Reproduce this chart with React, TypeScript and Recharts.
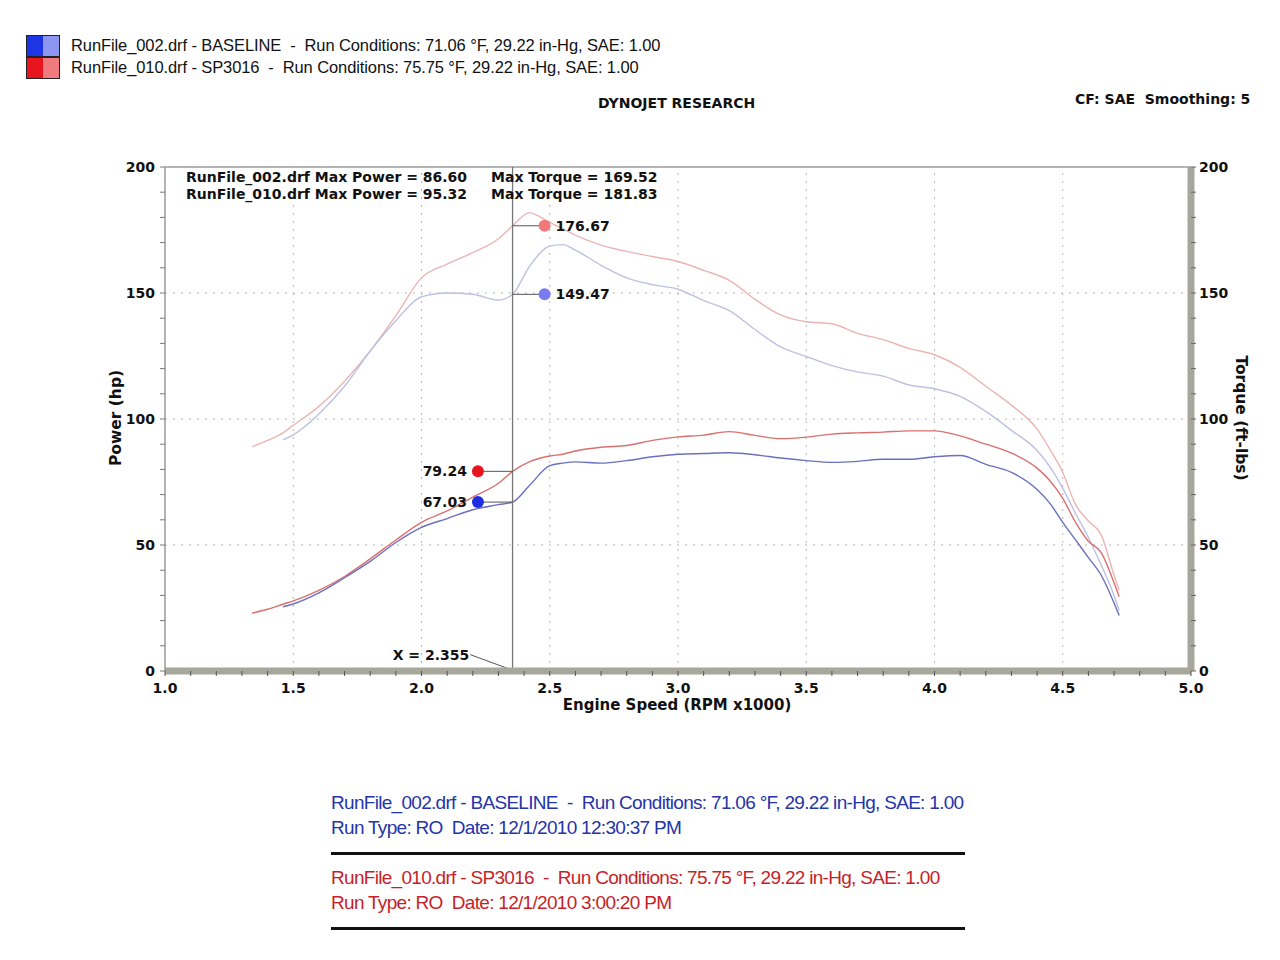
import React from 'react';
import { LineChart, Line, XAxis, YAxis, ReferenceLine, ReferenceDot } from 'recharts';

const rpm = [1.34, 1.40, 1.46, 1.5, 1.6, 1.7, 1.8, 1.9, 2.0, 2.1, 2.2, 2.3, 2.355, 2.42, 2.5, 2.55, 2.6, 2.7, 2.8, 2.9, 3.0, 3.1, 3.2, 3.3, 3.4, 3.5, 3.6, 3.7, 3.8, 3.9, 4.0, 4.1, 4.2, 4.3, 4.4, 4.45, 4.5, 4.55, 4.6, 4.65, 4.7, 4.72];

const sp3016Torque = [89, 91.5, 94.5, 97.5, 105, 115, 127, 141, 156, 161.5, 166, 171.5, 176.67, 181.8, 178, 175.5, 173, 169, 166.5, 164.5, 162.5, 159, 155, 147.5, 141.3, 138.6, 137.8, 134, 131.5, 128, 125.5, 120.5, 113, 105.5, 96, 88, 78.8, 66, 59.5, 54, 38, 32];
const baselineTorque = [null, null, 91.7, 93.7, 102, 113, 127, 139, 148.5, 150, 149.5, 147.2, 149.47, 160.4, 168.6, 169.2, 167, 161, 156, 153.3, 151.5, 147, 143, 135.5, 128.6, 124.8, 121.2, 118.7, 117, 113.5, 112, 109, 103, 95.5, 87.5, 81, 72.5, 62.5, 53, 42, 30, 24];
const sp3016Power = [23, 24.5, 26.5, 27.8, 32, 37.5, 44.5, 52, 59, 63.5, 69, 74.5, 79.24, 83, 85.3, 86, 87.3, 88.8, 89.5, 91.5, 92.9, 93.6, 95, 93.5, 92.2, 92.8, 94, 94.5, 94.8, 95.3, 95.3, 93.3, 90, 86.5, 80.5, 75.5, 68.5, 59, 51.5, 47, 35, 29.5];
const baselinePower = [null, null, 25.5, 26.6, 31, 37, 43.5, 51, 57, 60.5, 64, 66, 67.03, 73.5, 81.5, 82.5, 83, 82.5, 83.5, 85, 86, 86.3, 86.6, 85.8, 84.5, 83.5, 82.8, 83.2, 84, 84, 85, 85.5, 82, 78.8, 72, 66.5, 59, 52, 45, 38, 27, 22];

const xTicks = [1.0, 1.1, 1.2, 1.3, 1.4, 1.5, 1.6, 1.7, 1.8, 1.9, 2.0, 2.1, 2.2, 2.3, 2.4, 2.5, 2.6, 2.7, 2.8, 2.9, 3.0, 3.1, 3.2, 3.3, 3.4, 3.5, 3.6, 3.7, 3.8, 3.9, 4.0, 4.1, 4.2, 4.3, 4.4, 4.5, 4.6, 4.7, 4.8, 4.9, 5.0];
const xMajor = [1.5, 2.0, 2.5, 3.0, 3.5, 4.0, 4.5];
const yTicks = [0, 10, 20, 30, 40, 50, 60, 70, 80, 90, 100, 110, 120, 130, 140, 150, 160, 170, 180, 190, 200];
const yMajor = [50, 100, 150];

const cursorX = 2.355;
const torqueDotX = 2.48;
const powerDotX = 2.22;
const cursorTorque = { sp3016: 176.67, baseline: 149.47 };
const cursorPower = { sp3016: 79.24, baseline: 67.03 };

const data = rpm.map((r, i) => ({
  rpm: r,
  st: sp3016Torque[i],
  bt: baselineTorque[i],
  sp: sp3016Power[i],
  bp: baselinePower[i],
}));

const BOLD = '"DejaVu Sans", Verdana, sans-serif';
const NARROW = '"Liberation Sans", Arial, sans-serif';

const isMajor = (v: number, step: number) => Math.abs(v / step - Math.round(v / step)) < 1e-6;

const XTick = (props: any) => {
  const { x, y, payload } = props;
  if (!isMajor(payload.value, 0.5)) return null;
  return (
    <text x={x} y={y + 15} textAnchor="middle" fontFamily={BOLD} fontWeight="bold" fontSize={14} fill="#111">
      {payload.value.toFixed(1)}
    </text>
  );
};
const YTickL = (props: any) => {
  const { x, y, payload } = props;
  if (!isMajor(payload.value, 50)) return null;
  return (
    <text x={x - 3} y={y + 5} textAnchor="end" fontFamily={BOLD} fontWeight="bold" fontSize={14} fill="#111">
      {payload.value}
    </text>
  );
};
const YTickR = (props: any) => {
  const { x, y, payload } = props;
  if (!isMajor(payload.value, 50)) return null;
  return (
    <text x={x + 1} y={y + 5} textAnchor="start" fontFamily={BOLD} fontWeight="bold" fontSize={14} fill="#111">
      {payload.value}
    </text>
  );
};

const abs = (left: number, top: number, extra: React.CSSProperties = {}): React.CSSProperties => ({
  position: 'absolute', left, top, whiteSpace: 'nowrap', lineHeight: 1, margin: 0, ...extra,
});

const Swatch = ({ top, dark, light }: { top: number; dark: string; light: string }) => (
  <div style={{ position: 'absolute', left: 26, top, width: 34, height: 22, border: '1.5px solid #222', boxSizing: 'border-box', display: 'flex' }}>
    <div style={{ flex: 1, background: dark }} />
    <div style={{ flex: 1, background: light }} />
  </div>
);

const lblStyle = { fontFamily: BOLD, fontWeight: 'bold', fontSize: 14, fill: '#111' } as any;
const boldText = (size: number): React.CSSProperties => ({ fontFamily: BOLD, fontWeight: 'bold', fontSize: size, color: '#111' });

export default function App() {
  return (
    <div style={{ position: 'absolute', left: 0, top: 0, width: 1280, height: 960, background: '#fff', overflow: 'hidden' }}>
      <Swatch top={35} dark="#1c36e6" light="#8d96f0" />
      <Swatch top={57} dark="#e8141e" light="#f07a7e" />
      <div style={abs(71, 37, { fontFamily: NARROW, fontSize: 16.5, letterSpacing: -0.1, color: '#111' })}>
        RunFile_002.drf - BASELINE&nbsp; -&nbsp; Run Conditions: 71.06 °F, 29.22 in-Hg, SAE: 1.00
      </div>
      <div style={abs(71, 59, { fontFamily: NARROW, fontSize: 16.5, letterSpacing: -0.1, color: '#111' })}>
        RunFile_010.drf - SP3016&nbsp; -&nbsp; Run Conditions: 75.75 °F, 29.22 in-Hg, SAE: 1.00
      </div>
      <div style={abs(598, 96, boldText(14))}>DYNOJET RESEARCH</div>
      <div style={abs(1075, 92, boldText(14))}>CF: SAE&nbsp; Smoothing: 5</div>

      <div style={{ position: 'absolute', left: 0, top: 0 }}>
        <LineChart width={1280} height={960} data={data} margin={{ top: 167, right: 29, bottom: 249, left: 105 }}>
          <XAxis dataKey="rpm" type="number" domain={[1, 5]} ticks={xTicks} interval={0} tick={<XTick />}
            axisLine={{ stroke: '#a8a79b', strokeWidth: 7 }} tickLine={{ stroke: '#555' }} tickSize={5} height={40} allowDataOverflow />
          <YAxis yAxisId="left" domain={[0, 200]} ticks={yTicks} interval={0} tick={<YTickL />} width={60}
            axisLine={{ stroke: '#9a9a9a', strokeWidth: 1.5 }} tickLine={{ stroke: '#777' }} tickSize={5} />
          <YAxis yAxisId="right" orientation="right" domain={[0, 200]} ticks={yTicks} interval={0} tick={<YTickR />} width={60}
            axisLine={{ stroke: '#a8a79b', strokeWidth: 7 }} tickLine={{ stroke: '#666' }} tickSize={5} />

          {xMajor.map((v) => (
            <ReferenceLine key={'gx' + v} yAxisId="left" x={v} stroke="#b5b5b5" strokeDasharray="2 6" strokeWidth={1} />
          ))}
          {yMajor.map((v) => (
            <ReferenceLine key={'gy' + v} yAxisId="left" y={v} stroke="#b5b5b5" strokeDasharray="2 6" strokeWidth={1} />
          ))}
          <ReferenceLine yAxisId="left" y={200} stroke="#9a9a9a" strokeWidth={1.5} />

          <Line yAxisId="right" type="monotone" dataKey="st" stroke="#ecb4b4" strokeWidth={1.4} dot={false} isAnimationActive={false} connectNulls={false} />
          <Line yAxisId="right" type="monotone" dataKey="bt" stroke="#bcc0e2" strokeWidth={1.4} dot={false} isAnimationActive={false} connectNulls={false} />
          <Line yAxisId="left" type="monotone" dataKey="sp" stroke="#d9706e" strokeWidth={1.4} dot={false} isAnimationActive={false} connectNulls={false} />
          <Line yAxisId="left" type="monotone" dataKey="bp" stroke="#6a70bf" strokeWidth={1.4} dot={false} isAnimationActive={false} connectNulls={false} />

          <ReferenceLine yAxisId="left" x={cursorX} stroke="#777" strokeWidth={1.3} />

          <ReferenceLine yAxisId="right" segment={[{ x: cursorX, y: cursorTorque.sp3016 }, { x: torqueDotX, y: cursorTorque.sp3016 }]} stroke="#555" />
          <ReferenceLine yAxisId="right" segment={[{ x: cursorX, y: cursorTorque.baseline }, { x: torqueDotX, y: cursorTorque.baseline }]} stroke="#555" />
          <ReferenceLine yAxisId="left" segment={[{ x: powerDotX, y: cursorPower.sp3016 }, { x: cursorX, y: cursorPower.sp3016 }]} stroke="#555" />
          <ReferenceLine yAxisId="left" segment={[{ x: powerDotX, y: cursorPower.baseline }, { x: cursorX, y: cursorPower.baseline }]} stroke="#555" />
          <ReferenceLine yAxisId="left" segment={[{ x: 2.19, y: 6.5 }, { x: cursorX, y: 0.3 }]} stroke="#555" />

          <ReferenceDot yAxisId="right" x={torqueDotX} y={cursorTorque.sp3016} r={6} fill="#f07a7a" stroke="none"
            label={{ value: '176.67', position: 'right', offset: 5, ...lblStyle }} />
          <ReferenceDot yAxisId="right" x={torqueDotX} y={cursorTorque.baseline} r={6} fill="#7b7bf0" stroke="none"
            label={{ value: '149.47', position: 'right', offset: 5, ...lblStyle }} />
          <ReferenceDot yAxisId="left" x={powerDotX} y={cursorPower.sp3016} r={6} fill="#e8141e" stroke="none"
            label={{ value: '79.24', position: 'left', offset: 5, ...lblStyle }} />
          <ReferenceDot yAxisId="left" x={powerDotX} y={cursorPower.baseline} r={6} fill="#1c2ee0" stroke="none"
            label={{ value: '67.03', position: 'left', offset: 5, ...lblStyle }} />
          <ReferenceDot yAxisId="left" x={2.19} y={6.5} r={0} fill="none" stroke="none"
            label={{ value: 'X = 2.355', position: 'left', offset: 1, ...lblStyle }} />
        </LineChart>
      </div>

      <div style={abs(186, 170, boldText(14))}>RunFile_002.drf Max Power = 86.60</div>
      <div style={abs(186, 187, boldText(14))}>RunFile_010.drf Max Power = 95.32</div>
      <div style={abs(491, 170, boldText(14))}>Max Torque = 169.52</div>
      <div style={abs(491, 187, boldText(14))}>Max Torque = 181.83</div>

      <div style={abs(117, 418, { ...boldText(15.5), transform: 'translate(-50%, -50%) rotate(-90deg)' })}>Power (hp)</div>
      <div style={abs(1240, 418, { ...boldText(15.5), transform: 'translate(-50%, -50%) rotate(90deg)' })}>Torque (ft-lbs)</div>
      <div style={abs(677, 705, { ...boldText(15), transform: 'translate(-50%, -50%)' })}>Engine Speed (RPM x1000)</div>

      <div style={abs(331, 793, { fontFamily: NARROW, fontSize: 19, letterSpacing: -0.7, color: '#2534a8' })}>
        RunFile_002.drf - BASELINE&nbsp; -&nbsp; Run Conditions: 71.06 °F, 29.22 in-Hg, SAE: 1.00
      </div>
      <div style={abs(331, 818, { fontFamily: NARROW, fontSize: 19, letterSpacing: -0.7, color: '#2534a8' })}>
        Run Type: RO&nbsp; Date: 12/1/2010 12:30:37 PM
      </div>
      <div style={{ position: 'absolute', left: 331, top: 852, width: 634, height: 3, background: '#111' }} />
      <div style={abs(331, 868, { fontFamily: NARROW, fontSize: 19, letterSpacing: -0.7, color: '#c81e28' })}>
        RunFile_010.drf - SP3016&nbsp; -&nbsp; Run Conditions: 75.75 °F, 29.22 in-Hg, SAE: 1.00
      </div>
      <div style={abs(331, 893, { fontFamily: NARROW, fontSize: 19, letterSpacing: -0.7, color: '#c81e28' })}>
        Run Type: RO&nbsp; Date: 12/1/2010 3:00:20 PM
      </div>
      <div style={{ position: 'absolute', left: 331, top: 927, width: 634, height: 3, background: '#111' }} />
    </div>
  );
}
